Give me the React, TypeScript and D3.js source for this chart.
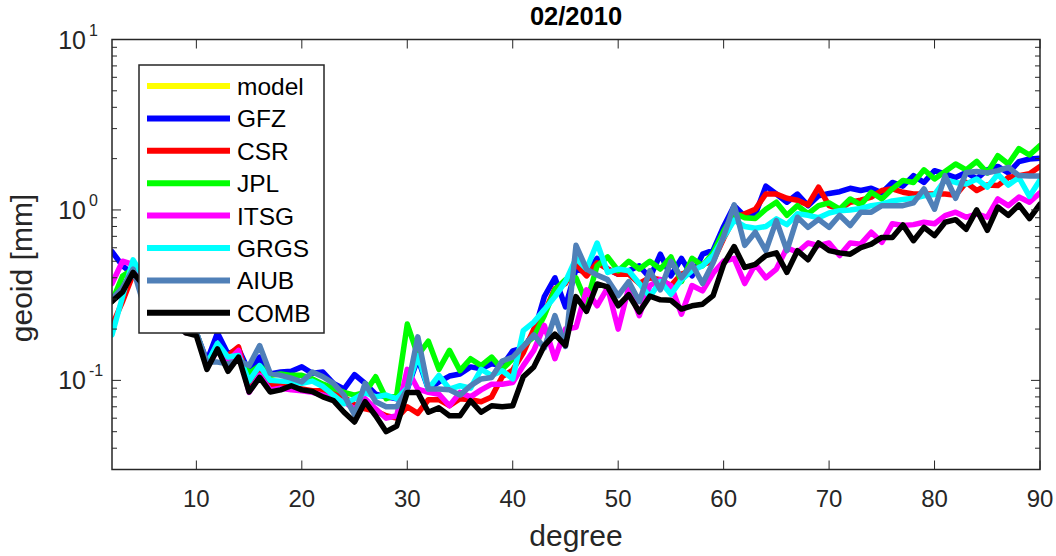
import { scaleLinear, scaleLog, line as d3_line, range } from "d3";

// spherical harmonic degree (x axis categories)
const degrees = range(2, 91);

// geoid errors [mm] per degree
const model: number[] = [];
const gfz = [
  0.57, 0.47, 0.42, 0.36, 0.3, 0.26, 0.23, 0.2,
  0.19, 0.13, 0.19, 0.143, 0.153, 0.112, 0.137, 0.109, 0.112, 0.113,
  0.12, 0.11, 0.112, 0.096, 0.089, 0.108, 0.096, 0.083, 0.08, 0.078,
  0.089, 0.134, 0.089, 0.098, 0.106, 0.109, 0.12, 0.117, 0.125, 0.122,
  0.149, 0.155, 0.19, 0.31, 0.4, 0.27, 0.45, 0.43, 0.52, 0.45,
  0.42, 0.44, 0.47, 0.4, 0.55, 0.41, 0.52, 0.41, 0.55, 0.58,
  0.8, 1.06, 0.92, 0.94, 1.38, 1.24, 1.11, 1.24, 1.06, 1.21,
  1.25, 1.28, 1.34, 1.3, 1.34, 1.26, 1.45, 1.38, 1.59, 1.45,
  1.7, 1.63, 1.55, 1.66, 1.52, 1.72, 1.8, 1.65, 1.92, 1.99,
  2.01,
];
const csr = [
  0.21, 0.29, 0.42, 0.35, 0.3, 0.26, 0.22, 0.19,
  0.19, 0.125, 0.15, 0.14, 0.157, 0.093, 0.118, 0.095, 0.093, 0.091,
  0.089, 0.087, 0.087, 0.085, 0.08, 0.072, 0.068, 0.066, 0.062, 0.06,
  0.07, 0.064, 0.077, 0.077, 0.071, 0.078, 0.077, 0.075, 0.08, 0.105,
  0.115, 0.145, 0.2, 0.25, 0.345, 0.37, 0.48, 0.41, 0.49, 0.45,
  0.42, 0.42, 0.37, 0.4, 0.39, 0.36, 0.42, 0.44, 0.48, 0.5,
  0.68, 0.9, 0.95, 1.01, 1.24, 1.24, 1.17, 1.14, 1.07, 1.36,
  1.06, 1.01, 1.11, 1.14, 1.19, 1.3, 1.33, 1.27, 1.24, 1.24,
  1.24, 1.24, 1.22, 1.45, 1.3, 1.4, 1.39, 1.55, 1.59, 1.63,
  1.8,
];
const jpl = [
  0.29, 0.41, 0.45, 0.37, 0.31, 0.27, 0.23, 0.2,
  0.19, 0.125, 0.15, 0.137, 0.14, 0.11, 0.122, 0.107, 0.109, 0.107,
  0.107, 0.102, 0.095, 0.09, 0.085, 0.082, 0.085, 0.105, 0.078, 0.082,
  0.214, 0.14, 0.17, 0.116, 0.15, 0.114, 0.134, 0.122, 0.137, 0.116,
  0.134, 0.16, 0.18, 0.24, 0.34, 0.39, 0.4, 0.285, 0.47, 0.53,
  0.44, 0.5, 0.45, 0.5, 0.45, 0.53, 0.38, 0.52, 0.47, 0.56,
  0.75, 0.96, 0.9, 0.89, 1.01, 1.11, 0.93, 1.06, 0.95, 1.06,
  1.1, 1.01, 1.16, 1.07, 1.27, 1.16, 1.33, 1.49, 1.45, 1.72,
  1.52, 1.68, 1.86, 1.72, 1.93, 1.65, 2.08, 1.86, 2.29, 2.1,
  2.39,
];
const itsg = [
  0.37, 0.5, 0.48, 0.38, 0.32, 0.27, 0.23, 0.2,
  0.19, 0.12, 0.15, 0.13, 0.15, 0.085, 0.107, 0.088, 0.09, 0.088,
  0.087, 0.085, 0.082, 0.078, 0.075, 0.068, 0.078, 0.068, 0.06, 0.062,
  0.116, 0.089, 0.085, 0.083, 0.071, 0.085, 0.08, 0.088, 0.095, 0.095,
  0.097, 0.122, 0.15, 0.21, 0.134, 0.2, 0.205, 0.34, 0.274, 0.35,
  0.2, 0.35, 0.24, 0.36, 0.39, 0.36, 0.245, 0.36, 0.335, 0.425,
  0.5, 0.52, 0.37, 0.48, 0.4, 0.45, 0.6, 0.565, 0.64, 0.617,
  0.64, 0.54, 0.64, 0.63, 0.74, 0.646, 0.83, 0.81, 0.82, 0.847,
  0.83, 0.926, 0.97, 0.906, 0.95, 0.906, 1.16, 1.06, 1.19, 1.11,
  1.26,
];
const grgs = [
  0.185, 0.31, 0.51, 0.4, 0.33, 0.28, 0.23, 0.2,
  0.19, 0.125, 0.165, 0.137, 0.14, 0.099, 0.122, 0.1, 0.099, 0.098,
  0.096, 0.099, 0.092, 0.082, 0.073, 0.078, 0.085, 0.08, 0.082, 0.078,
  0.09, 0.14, 0.089, 0.107, 0.089, 0.093, 0.09, 0.116, 0.107, 0.114,
  0.102, 0.196, 0.22, 0.26, 0.31, 0.38, 0.52, 0.45, 0.64, 0.43,
  0.45, 0.44, 0.37, 0.31, 0.38, 0.32, 0.39, 0.44, 0.47, 0.54,
  0.69, 0.87, 0.8, 0.78, 0.8, 0.886, 0.82, 0.95, 0.93, 0.9,
  0.96, 0.99, 1.0, 1.02, 1.06, 1.08, 1.13, 1.15, 1.17, 1.21,
  1.23, 1.5, 1.45, 1.42, 1.52, 1.36, 1.62, 1.4, 1.55, 1.2,
  1.5,
];
const aiub = [
  0.3, 0.35, 0.45, 0.28, 0.25, 0.23, 0.21, 0.19,
  0.19, 0.128, 0.128, 0.125, 0.131, 0.122, 0.16, 0.11, 0.107, 0.103,
  0.098, 0.112, 0.105, 0.096, 0.082, 0.063, 0.096, 0.075, 0.07, 0.07,
  0.089, 0.18, 0.089, 0.089, 0.088, 0.082, 0.093, 0.102, 0.104, 0.13,
  0.137, 0.158, 0.185, 0.155, 0.24, 0.158, 0.62, 0.45, 0.415, 0.39,
  0.314, 0.38, 0.29, 0.44, 0.34, 0.5, 0.4, 0.48, 0.37, 0.49,
  0.7, 1.07, 0.62, 0.74, 0.577, 0.866, 0.577, 0.906, 0.79, 0.88,
  0.79, 0.93, 0.81, 0.97, 0.97, 1.06, 1.06, 1.06, 1.1, 1.33,
  1.01, 1.59, 1.17, 1.66, 1.68, 1.65, 1.7, 1.78, 1.59, 1.58,
  1.58,
];
const comb = [
  0.29, 0.33, 0.43, 0.36, 0.3, 0.26, 0.22, 0.19,
  0.183, 0.116, 0.153, 0.113, 0.137, 0.0855, 0.104, 0.0855, 0.088, 0.093,
  0.088, 0.086, 0.08, 0.076, 0.065, 0.057, 0.075, 0.062, 0.05, 0.054,
  0.085, 0.085, 0.065, 0.069, 0.062, 0.062, 0.076, 0.065, 0.071, 0.07,
  0.071, 0.105, 0.12, 0.16, 0.187, 0.16, 0.31, 0.254, 0.368, 0.354,
  0.274, 0.318, 0.252, 0.312, 0.297, 0.295, 0.262, 0.274, 0.28, 0.314,
  0.48, 0.61, 0.46, 0.48, 0.54, 0.56, 0.43, 0.577, 0.51, 0.64,
  0.577, 0.56, 0.55, 0.6, 0.63, 0.69, 0.69, 0.817, 0.66, 0.79,
  0.707, 0.847, 0.877, 0.77, 1.0, 0.76, 1.04, 0.93, 1.07, 0.89,
  1.08,
];

const seriesNames = ["model", "GFZ", "CSR", "JPL", "ITSG", "GRGS", "AIUB", "COMB"];
const seriesValues = [model, gfz, csr, jpl, itsg, grgs, aiub, comb];
const seriesColors = ["#ffff00", "#0000ff", "#ff0000", "#00ff00", "#ff00ff", "#00ffff", "#5080b8", "#000000"];

const xTicks = [10, 20, 30, 40, 50, 60, 70, 80, 90];
const yMajor = [0.1, 1, 10];
const yMinor = [0.04, 0.05, 0.06, 0.07, 0.08, 0.09, 0.2, 0.3, 0.4, 0.5, 0.6, 0.7, 0.8, 0.9, 2, 3, 4, 5, 6, 7, 8, 9];
const yExponents = ["-1", "0", "1"];

const W = 1056;
const H = 556;
const left = 112;
const right = 1040;
const top = 39.5;
const bottom = 469.5;
const axisColor = "#262626";
const font = "'Liberation Sans', Arial, Helvetica, sans-serif";

export default function App() {
  const x = scaleLinear().domain([2, 90]).range([left, right]);
  const y = scaleLog().domain([0.03, 10]).range([bottom, top]);

  const line = d3_line<number>()
    .x((_, i) => x(degrees[i]))
    .y((v) => y(v));

  const majorLen = 9;
  const minorLen = 5;

  // legend layout
  const lg = { x: 139, y: 65, w: 185, h: 268 };
  const rowH = 32.4;

  return (
    <div style={{ position: "absolute", left: 0, top: 0 }}>
      <svg width={W} height={H} style={{ display: "block", background: "#fff" }}>
        <defs>
          <clipPath id="plotArea">
            <rect x={left} y={top} width={right - left} height={bottom - top} />
          </clipPath>
        </defs>

        {/* Lines */}
        <g clipPath="url(#plotArea)">
          {seriesValues.map((vals, k) =>
            vals.length ? (
              <path
                key={k}
                d={line(vals) ?? ""}
                fill="none"
                stroke={seriesColors[k]}
                strokeWidth={5.5}
                strokeLinejoin="round"
                strokeLinecap="round"
              />
            ) : null
          )}
        </g>

        {/* Axes box */}
        <rect
          x={left}
          y={top}
          width={right - left}
          height={bottom - top}
          fill="none"
          stroke={axisColor}
          strokeWidth={1.5}
        />

        {/* X ticks (bottom + top) */}
        {xTicks.map((t) => (
          <g key={t} stroke={axisColor} strokeWidth={1}>
            <line x1={x(t)} x2={x(t)} y1={bottom} y2={bottom - majorLen} />
            <line x1={x(t)} x2={x(t)} y1={top} y2={top + majorLen} />
          </g>
        ))}
        {xTicks.map((t) => (
          <text
            key={t}
            x={x(t)}
            y={507}
            textAnchor="middle"
            fontFamily={font}
            fontSize={24}
            fill={axisColor}
          >
            {t}
          </text>
        ))}

        {/* Y ticks (left + right) */}
        {yMajor.map((t) => (
          <g key={t} stroke={axisColor} strokeWidth={1}>
            <line x1={left} x2={left + majorLen} y1={y(t)} y2={y(t)} />
            <line x1={right} x2={right - majorLen} y1={y(t)} y2={y(t)} />
          </g>
        ))}
        {yMinor.map((t) => (
          <g key={t} stroke={axisColor} strokeWidth={1}>
            <line x1={left} x2={left + minorLen} y1={y(t)} y2={y(t)} />
            <line x1={right} x2={right - minorLen} y1={y(t)} y2={y(t)} />
          </g>
        ))}
        {yMajor.map((t, i) => (
          <text
            key={t}
            x={86}
            y={y(t) + 9}
            textAnchor="end"
            fontFamily={font}
            fontSize={25}
            fill={axisColor}
          >
            10
            <tspan x={89} dy={-13} fontSize={16} textAnchor="start">
              {yExponents[i]}
            </tspan>
          </text>
        ))}

        {/* Axis labels and title */}
        <text
          x={(left + right) / 2}
          y={546}
          textAnchor="middle"
          fontFamily={font}
          fontSize={30}
          fill={axisColor}
        >
          degree
        </text>
        <text
          transform={`translate(32,268) rotate(-90)`}
          textAnchor="middle"
          fontFamily={font}
          fontSize={30}
          fill={axisColor}
        >
          geoid [mm]
        </text>
        <text
          x={(left + right) / 2}
          y={25}
          textAnchor="middle"
          fontFamily={font}
          fontSize={25.5}
          fontWeight="bold"
          fill="#000"
        >
          02/2010
        </text>

        {/* Legend */}
        <rect x={lg.x} y={lg.y} width={lg.w} height={lg.h} fill="#fff" stroke={axisColor} strokeWidth={1.5} />
        {seriesNames.map((name, k) => {
          const cy = lg.y + 21 + k * rowH;
          return (
            <g key={name}>
              <line x1={147} x2={230} y1={cy} y2={cy} stroke={seriesColors[k]} strokeWidth={6} />
              <text x={237} y={cy + 9} fontFamily={font} fontSize={24.5} fill="#000">
                {name}
              </text>
            </g>
          );
        })}
      </svg>
    </div>
  );
}
